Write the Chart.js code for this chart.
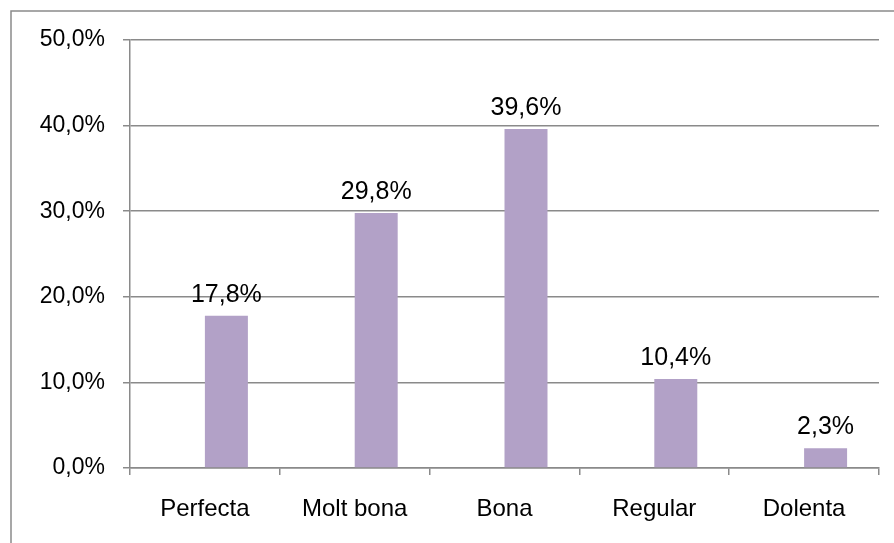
<!DOCTYPE html>
<html>
<head>
<meta charset="utf-8">
<script src="https://cdn.jsdelivr.net/npm/chart.js@4"></script>
<style>
    html, body { margin: 0; padding: 0; background: #fff; overflow: hidden; }
    #wrap { width: 894px; height: 543px; }
</style>
</head>
<body>
<div id="wrap"><canvas id="chart" width="894" height="543"></canvas></div>
<script>
    /* ========================================================
       DATA
    ======================================================== */
    const categories = ['Perfecta', 'Molt bona', 'Bona', 'Regular', 'Dolenta'];
    const emptySeries = [null, null, null, null, null];
    const percentValues = [17.8, 29.8, 39.6, 10.4, 2.3];
    const yTicks = [0, 10, 20, 30, 40, 50];

    const FONT = "'Liberation Sans', Arial, sans-serif";
    const GRID = '#8a8a8a';

    const fmt = (v) => v.toFixed(1).replace('.', ',') + '%';

    /* ========================================================
       PLUGINS
    ======================================================== */
    const outerFrame = {
        id: 'outerFrame',
        beforeDraw(chart) {
            const ctx = chart.ctx;
            ctx.save();
            ctx.strokeStyle = GRID;
            ctx.lineWidth = 1.5;
            ctx.strokeRect(11, 11, 2000, 2000);
            ctx.restore();
        }
    };

    const valueLabels = {
        id: 'valueLabels',
        afterDatasetsDraw(chart) {
            const ctx = chart.ctx;
            const meta = chart.getDatasetMeta(1);
            ctx.save();
            ctx.fillStyle = '#000';
            ctx.font = '25px ' + FONT;
            ctx.textAlign = 'center';
            ctx.textBaseline = 'alphabetic';
            meta.data.forEach((bar, i) => {
                ctx.fillText(fmt(percentValues[i]), bar.x, bar.y - 14);
            });
            ctx.restore();
        }
    };

    /* ========================================================
       CHART
    ======================================================== */
    new Chart(document.getElementById('chart'), {
        type: 'bar',
        data: {
            labels: categories,
            datasets: [
                { label: '', data: emptySeries, backgroundColor: 'rgba(0,0,0,0)' },
                { label: 'Percentatge', data: percentValues, backgroundColor: '#b2a1c7' }
            ]
        },
        options: {
            responsive: false,
            animation: false,
            layout: { padding: { top: 40, right: 15, bottom: 0, left: 0 } },
            datasets: { bar: { categoryPercentage: 0.574, barPercentage: 1 } },
            plugins: { legend: { display: false }, tooltip: { enabled: false } },
            scales: {
                x: {
                    grid: { drawOnChartArea: false, drawTicks: true, tickLength: 7, color: GRID, lineWidth: 1.5 },
                    border: { color: GRID, width: 1.5 },
                    ticks: { color: '#000', font: { family: FONT, size: 24 }, padding: 20, maxRotation: 0 },
                    afterFit(scale) { scale.height = 75; }
                },
                y: {
                    min: 0,
                    max: 50,
                    afterBuildTicks(scale) { scale.ticks = yTicks.map(v => ({ value: v })); },
                    grid: { color: GRID, lineWidth: 1.5, tickLength: 7 },
                    border: { color: GRID, width: 1.5 },
                    ticks: { color: '#000', font: { family: FONT, size: 23 }, padding: 18, callback: (v) => fmt(v) },
                    afterFit(scale) { scale.width = 130; }
                }
            }
        },
        plugins: [outerFrame, valueLabels]
    });
</script>
</body>
</html>
